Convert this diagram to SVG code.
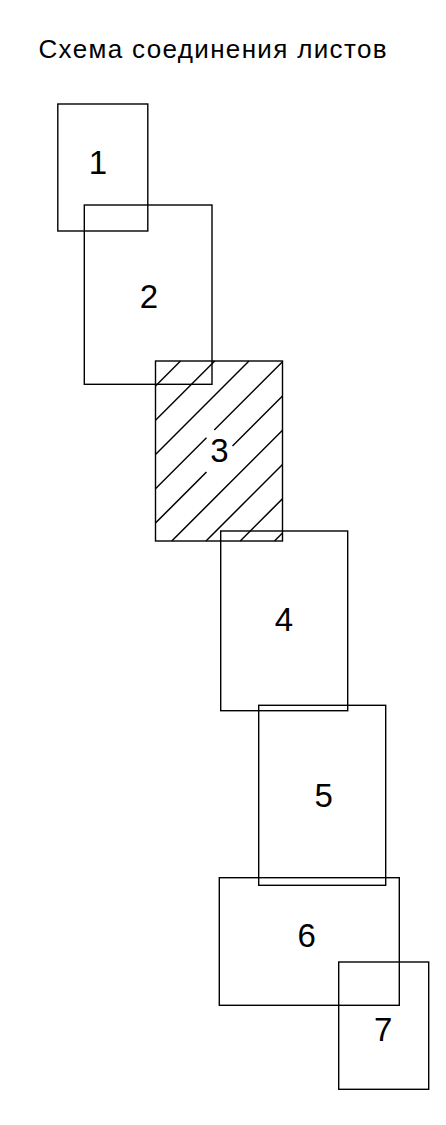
<svg xmlns="http://www.w3.org/2000/svg" width="446" height="1125" viewBox="0 0 446 1125">
<style>
.sheet{fill:none;stroke:#000;stroke-width:1.4}
.hatch{stroke:#000;stroke-width:1.5;fill:none}
.num{font-family:"Liberation Sans","DejaVu Sans",sans-serif;font-size:33px;fill:#000;text-anchor:middle}
.title{font-family:"Liberation Sans","DejaVu Sans",sans-serif;font-size:26px;fill:#000}
</style>
<rect width="446" height="1125" fill="#fff"/>
<text class="title" x="38.5" y="58.3" textLength="348" lengthAdjust="spacing">Схема соединения листов</text>
<g id="sheet1">
<rect class="sheet" x="57.8" y="104" width="90" height="127"/>
<text class="num" x="98" y="174">1</text>
</g>
<g id="sheet2">
<rect class="sheet" x="84.3" y="205" width="127.7" height="179.3"/>
<text class="num" x="149" y="308.3">2</text>
</g>
<g id="sheet3">
<rect class="sheet" x="155.5" y="361" width="127" height="180"/>
<g class="hatch">
<line x1="155.5" y1="386" x2="180.5" y2="361"/>
<line x1="155.5" y1="420.25" x2="214.75" y2="361"/>
<line x1="155.5" y1="454.5" x2="249" y2="361"/>
<line x1="155.5" y1="488.75" x2="206.5" y2="437.75"/>
<line x1="214.25" y1="430" x2="282.5" y2="361.75"/>
<line x1="155.5" y1="523" x2="206.5" y2="472"/>
<line x1="232.5" y1="446" x2="282.5" y2="396"/>
<line x1="171.75" y1="541" x2="282.5" y2="430.25"/>
<line x1="206" y1="541" x2="282.5" y2="464.5"/>
<line x1="240.25" y1="541" x2="282.5" y2="498.75"/>
<line x1="274.5" y1="541" x2="282.5" y2="533"/>
</g>
<text class="num" x="219.5" y="461.7">3</text>
</g>
<g id="sheet4">
<rect class="sheet" x="220.7" y="531" width="127" height="179.7"/>
<text class="num" x="284" y="630.7">4</text>
</g>
<g id="sheet5">
<rect class="sheet" x="258.7" y="705.3" width="127" height="180"/>
<text class="num" x="323.7" y="807.3">5</text>
</g>
<g id="sheet6">
<rect class="sheet" x="219.3" y="877.7" width="180" height="127.6"/>
<text class="num" x="306.7" y="947.3">6</text>
</g>
<g id="sheet7">
<rect class="sheet" x="338.7" y="962" width="90" height="127.3"/>
<text class="num" x="383.3" y="1041">7</text>
</g>
<g id="connectors"/>
</svg>
